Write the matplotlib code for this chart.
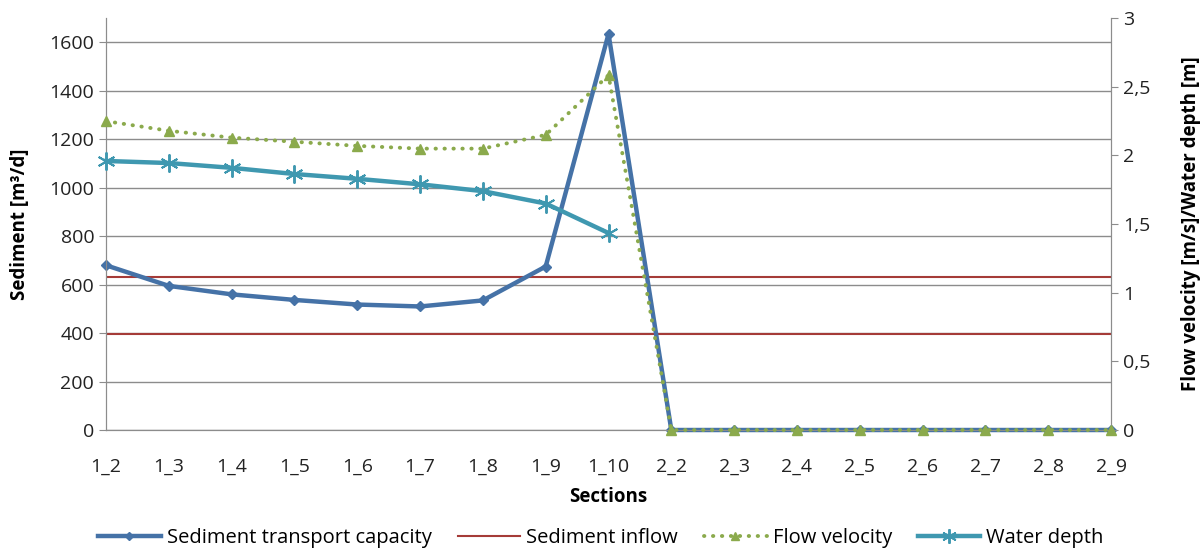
import numpy as np
import matplotlib.pyplot as plt
from matplotlib.ticker import FuncFormatter

plt.rcParams['font.family'] = ['Open Sans', 'DejaVu Sans']

sections = ["1_2", "1_3", "1_4", "1_5", "1_6", "1_7", "1_8", "1_9", "1_10",
            "2_2", "2_3", "2_4", "2_5", "2_6", "2_7", "2_8", "2_9"]

# sediment transport capacity [m3/d]
capacity = [680, 595, 560, 537, 518, 510, 535, 675, 1635,
            0, 0, 0, 0, 0, 0, 0, 0]
# sediment inflow levels [m3/d]
inflow_levels = [630, 395]
# flow velocity [m/s]
velocity = [2.25, 2.18, 2.13, 2.10, 2.07, 2.05, 2.05, 2.15, 2.585,
            0, 0, 0, 0, 0, 0, 0, 0]
# water depth [m], only in the first reach
depth = [1.96, 1.945, 1.91, 1.865, 1.83, 1.79, 1.74, 1.65, 1.435]

x = np.arange(len(sections))

fig = plt.figure(figsize=(12.02, 5.52), dpi=100)
ax = fig.add_axes([0.0882, 0.221, 0.8361, 0.746])
ax2 = ax.twinx()

grid_c = "#8c8c8c"
ax.set_ylim(0, 1700)
ax.set_yticks(np.arange(0, 1700, 200))
ax.yaxis.grid(True, color=grid_c, linewidth=1)
ax.set_axisbelow(True)
ax.set_xlim(x[0], x[-1])
ax.set_xticks(x)
ax.set_xticklabels(sections)

ax2.set_ylim(0, 3)
ax2.set_yticks(np.arange(0, 3.01, 0.5))
ax2.yaxis.set_major_formatter(FuncFormatter(lambda v, p: f"{v:g}".replace(".", ",")))

for a in (ax, ax2):
    a.spines["top"].set_visible(False)
    for s in ("left", "right", "bottom"):
        a.spines[s].set_color(grid_c)
    a.tick_params(colors=grid_c, labelcolor="#222222", labelsize=14, length=5)
ax.tick_params(axis="x", length=0, pad=20)

blue = "#4572A7"
red = "#A53B38"
green = "#8BAA4C"
teal = "#3F98B0"

h_cap, = ax.plot(x, capacity, color=blue, linewidth=3.2, marker="D",
                 markersize=5, zorder=3, clip_on=False,
                 label="Sediment transport capacity")
h_in = None
for i, lvl in enumerate(inflow_levels):
    line = ax.axhline(lvl, color=red, linewidth=1.5, zorder=2)
    if i == 0:
        h_in = line
h_vel, = ax2.plot(x, velocity, color=green, linewidth=2.8, linestyle=(0, (0.1, 2.2)),
                  dash_capstyle="round", marker="^", markersize=7, zorder=4,
                  clip_on=False, label="Flow velocity")
h_dep, = ax2.plot(x[:len(depth)], depth, color=teal, linewidth=3.2,
                  marker=(6, 2, 0), markersize=13, markeredgewidth=1.4, zorder=3,
                  clip_on=False, label="Water depth")
ax2.set_zorder(ax.get_zorder() + 1)
ax2.patch.set_visible(False)

ax.set_ylabel("Sediment [m³/d]", fontsize=13.5, fontweight="bold", labelpad=14)
ax2.set_ylabel("Flow velocity [m/s]/Water depth [m]", fontsize=13.5,
               fontweight="bold", labelpad=22)
ax.set_xlabel("Sections", fontsize=13.5, fontweight="bold", labelpad=8)

h_in.set_label("Sediment inflow")
fig.legend(handles=[h_cap, h_in, h_vel, h_dep], loc="lower center",
           bbox_to_anchor=(0.5, -0.026), ncol=4, frameon=False, fontsize=14.5,
           handlelength=3.1, handletextpad=0.3, columnspacing=1.3,
           markerscale=0.8)

fig.savefig("out.png", dpi=100)
